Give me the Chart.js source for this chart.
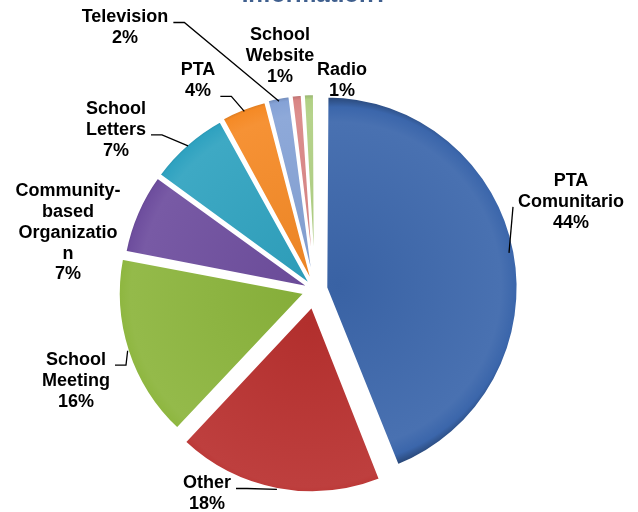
<!DOCTYPE html>
<html>
<head>
<meta charset="utf-8">
<script src="https://cdn.jsdelivr.net/npm/chart.js@4.4.1/dist/chart.umd.min.js"></script>
<style>
  html, body { margin: 0; padding: 0; background: #fff; }
  #frame { position: relative; width: 638px; height: 512px; overflow: hidden; }
  #holder { position: absolute; left: 0; top: -19px; width: 638px; height: 531px; }
</style>
</head>
<body>
<div id="frame"><div id="holder"><canvas id="pieChart"></canvas></div></div>
<script>
const categories = ["PTA Comunitario", "Other", "School Meeting", "Community-based Organization",
    "School Letters", "PTA", "Television", "School Website", "Radio"];
const shares = [44, 18, 16, 7, 7, 4, 2, 1, 1];
// label text as it is wrapped in the picture
const labelLines = [["PTA", "Comunitario"], ["Other"], ["School", "Meeting"],
    ["Community-", "based", "Organizatio", "n"], ["School", "Letters"], ["PTA"],
    ["Television"], ["School", "Website"], ["Radio"]];

const colors = ["#3b66ab", "#b9312f", "#8cb53c", "#6e4e9e", "#2fa2c0", "#f58a26", "#85a2d6", "#d98584", "#b0d083"];
const explode = [46, 68, 44, 24, 24, 24, 24, 24, 24];
// label block centres, relative to the pie centre
const labelSpots = [[256, -88], [-108, 204], [-239, 91], [-247, -57], [-199, -160],
    [-117, -209], [-190, -262], [-35, -234], [27, -209]];
// which text line the leader line leaves from (-1 = no leader)
const leaderLine = [1, 0, 0, -1, 1, 1, 0, -1, -1];

const FONT = "Arial, 'Liberation Sans', sans-serif";
const RADIUS = 184;

function mix(hex, target, amt) {
    const n = parseInt(hex.slice(1), 16);
    const f = v => Math.round(v + (target - v) * amt);
    return "rgb(" + f(n >> 16) + "," + f((n >> 8) & 255) + "," + f(n & 255) + ")";
}

function sliceMid(i) {
    const total = shares.reduce((a, b) => a + b, 0);
    let before = 0;
    for (let k = 0; k < i; k++) before += shares[k];
    return -Math.PI / 2 + 2 * Math.PI * (before + shares[i] / 2) / total;
}

function sliceFill(context) {
    const i = context.dataIndex;
    const area = context.chart.chartArea;
    if (!area) return colors[i];
    const mid = sliceMid(i);
    const shift = explode[i] / 4;
    const gx = (area.left + area.right) / 2 + Math.cos(mid) * shift;
    const gy = (area.top + area.bottom) / 2 + Math.sin(mid) * shift;
    const g = context.chart.ctx.createRadialGradient(gx, gy, 0, gx, gy, RADIUS + 6);
    g.addColorStop(0, mix(colors[i], 0, 0.04));
    g.addColorStop(0.86, mix(colors[i], 255, 0.07));
    g.addColorStop(0.94, colors[i]);
    g.addColorStop(1, mix(colors[i], 0, 0.35));
    return g;
}

const pieLabels = {
    id: "pieLabels",
    afterDatasetsDraw(chart) {
        const ctx = chart.ctx;
        const arcs = chart.getDatasetMeta(0).data;
        const total = shares.reduce((a, b) => a + b, 0);
        const lh = 20.8;
        ctx.save();
        ctx.font = "bold 18px " + FONT;
        ctx.fillStyle = "#000";
        ctx.strokeStyle = "#000";
        ctx.lineWidth = 1.3;
        ctx.textAlign = "center";
        ctx.textBaseline = "middle";
        arcs.forEach((arc, i) => {
            const p = arc.getProps(["x", "y", "startAngle", "endAngle", "outerRadius"], true);
            const mid = (p.startAngle + p.endAngle) / 2;
            const reach = explode[i] / 4 + p.outerRadius + 2;   // arcs are moved by offset/4
            const ax = p.x + Math.cos(mid) * reach;
            const ay = p.y + Math.sin(mid) * reach;
            const lines = labelLines[i].concat(Math.round(shares[i] / total * 100) + "%");
            const cx = p.x + labelSpots[i][0];
            const top = p.y + labelSpots[i][1] - (lines.length - 1) * lh / 2;
            lines.forEach((t, k) => ctx.fillText(t, cx, top + k * lh));
            if (leaderLine[i] >= 0) {
                const half = Math.max(...lines.map(t => ctx.measureText(t).width)) / 2;
                const ly = top + leaderLine[i] * lh + 5;
                ctx.beginPath();
                if (cx < ax) {
                    ctx.moveTo(cx + half + 5, ly);
                    ctx.lineTo(cx + half + 16, ly);
                } else {
                    ctx.moveTo(cx - half - 5, ly);
                }
                ctx.lineTo(ax, ay);
                ctx.stroke();
            }
        });
        ctx.restore();
    }
};

new Chart(document.getElementById("pieChart"), {
    type: "pie",
    data: {
        labels: categories,
        datasets: [{
            data: shares,
            backgroundColor: sliceFill,
            borderColor: "#ffffff",
            borderWidth: 2,
            offset: explode
        }]
    },
    options: {
        responsive: true,
        maintainAspectRatio: false,
        animation: false,
        radius: RADIUS,
        layout: { padding: { right: 8 } },
        plugins: {
            legend: { display: false },
            tooltip: { enabled: false },
            title: {
                display: true,
                text: "Information?",
                color: "#3f5f8e",
                font: { family: FONT, size: 24, weight: "bold" },
                padding: { top: 0, bottom: 58 }
            }
        }
    },
    plugins: [pieLabels]
});
</script>
</body>
</html>
